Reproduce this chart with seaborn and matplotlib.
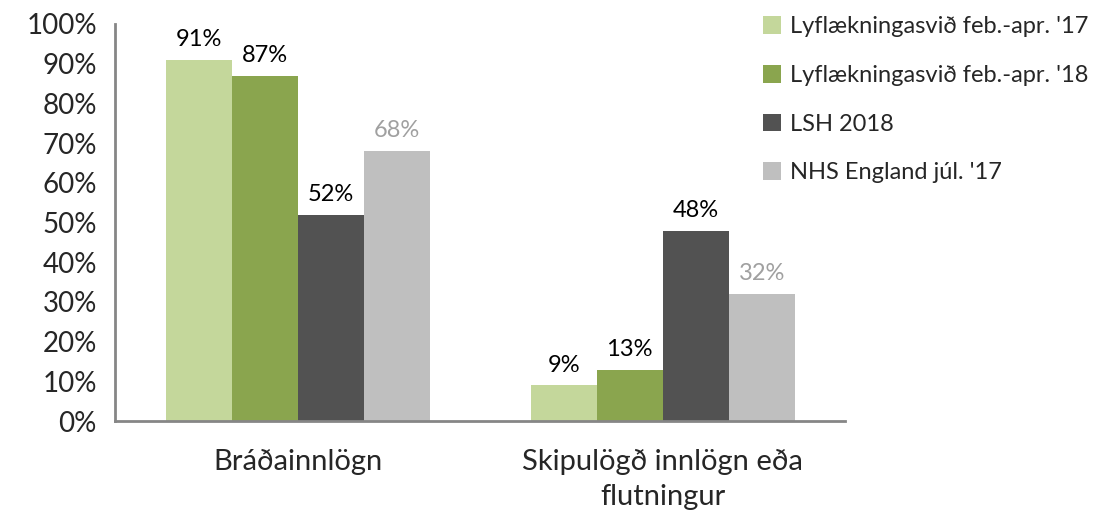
import pandas as pd
import matplotlib
matplotlib.use("Agg")
import matplotlib.pyplot as plt
import matplotlib.ticker as ticker
import seaborn as sns

categories = ["Bráðainnlögn", "Skipulögð innlögn eða\nflutningur"]
series = ["Lyflækningasvið feb.-apr. '17", "Lyflækningasvið feb.-apr. '18",
          "LSH 2018", "NHS England júl. '17"]
values_1 = [91, 9]
values_2 = [87, 13]
values_3 = [52, 48]
values_4 = [68, 32]
colors = ["#C4D79B", "#8AA54E", "#525252", "#BFBFBF"]
label_colors = ["black", "black", "black", "#A0A0A0"]

rows = []
for s, vals in zip(series, [values_1, values_2, values_3, values_4]):
    for c, v in zip(categories, vals):
        rows.append({"cat": c, "series": s, "value": v})
df = pd.DataFrame(rows)

sns.set_style("white")
plt.rcParams['font.family'] = ['Lato', 'DejaVu Sans']

fig = plt.figure(figsize=(10.99, 5.18), dpi=100, facecolor="white")
ax = fig.add_axes([0.1046, 0.187, 0.6645, 0.7667])

sns.barplot(data=df, x="cat", y="value", hue="series", palette=colors,
            width=0.723, saturation=1, linewidth=0, ax=ax, legend=True)

for cont, lc in zip(ax.containers, label_colors):
    ax.bar_label(cont, labels=[f"{v:.0f}%" for v in cont.datavalues],
                 padding=7, fontsize=17, color=lc)

ax.set_ylim(0, 100)
ax.set_xlim(-0.5, 1.5)
ax.yaxis.set_major_locator(ticker.MultipleLocator(10))
ax.yaxis.set_major_formatter(ticker.FuncFormatter(lambda v, p: f"{v:.0f}%"))
ax.set_xticks([0, 1])
ax.set_xticklabels(categories, fontsize=21, linespacing=1.45)
ax.xaxis.set_minor_locator(ticker.FixedLocator([-0.5, 0.5, 1.5]))
ax.tick_params(axis="x", which="major", length=0, pad=20)
ax.tick_params(axis="x", which="minor", length=7, width=2, color="#868686", direction="out")
ax.tick_params(axis="y", labelsize=20, length=9, width=2, color="#868686", direction="out", pad=4)
ax.set_xlabel("")
ax.set_ylabel("")
sns.despine(ax=ax, top=True, right=True)
for sp in ["left", "bottom"]:
    ax.spines[sp].set_color("#868686")
    ax.spines[sp].set_linewidth(2)

handles, labels = ax.get_legend_handles_labels()
ax.legend_.remove()
fig.legend(handles, labels, loc="upper left", bbox_to_anchor=(0.675, 1.01),
           frameon=False, fontsize=17, handlelength=0.78, handleheight=0.78,
           handletextpad=0.35, labelspacing=1.17)

fig.savefig("out.png", dpi=100)
